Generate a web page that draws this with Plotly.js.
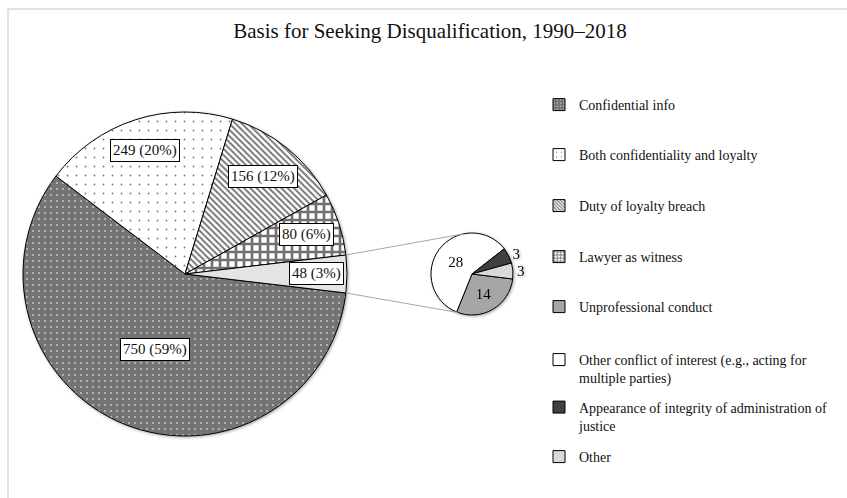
<!DOCTYPE html>
<html><head><meta charset="utf-8">
<script src="https://cdn.plot.ly/plotly-3.0.1.min.js"></script>
<style>html,body{margin:0;padding:0;background:#fff}#chart{width:847px;height:498px}
.pielayer g.trace{filter:drop-shadow(1px 1.5px 1.5px rgba(0,0,0,0.35));}</style>
</head><body><div id="chart"></div>
<script>
// ---------- data ----------
const titleText = 'Basis for Seeking Disqualification, 1990–2018';
const mainLabels = ['Confidential info', 'Both confidentiality and loyalty', 'Duty of loyalty breach', 'Lawyer as witness'];
const mainValues = [750, 249, 156, 80];
const mainPct = [59, 20, 12, 6];
const otherPct = 3;
const subLabels = ['Unprofessional conduct', 'Other conflict of interest (e.g., acting for<br>multiple parties)', 'Appearance of integrity of administration of<br>justice', 'Other'];
const subValues = [14, 28, 3, 3];

// ---------- layout / style ----------
const W = 847, H = 498;
const FONT = 'Liberation Serif, DejaVu Serif, serif';
const px = x => x / W;
const py = y => 1 - y / H;
const mainC = {x: 185, y: 274, r: 162};
const subC = {x: 472, y: 274, r: 41};
const dom = c => ({x: [px(c.x - c.r), px(c.x + c.r)], y: [py(c.y + c.r), py(c.y - c.r)]});

const otherTotal = subValues.reduce((a, b) => a + b, 0);
const pieValues = mainValues.concat([otherTotal]);
const total = pieValues.reduce((a, b) => a + b, 0);
const halfOther = otherTotal / total * 180;
const mainRotation = 90 + halfOther;

const mainStyle = {
  colors:   ['#747474', '#ffffff', '#ffffff', '#ffffff', '#e4e4e4'],
  shape:    ['.', '.', '\\', '+', ''],
  fg:       ['#ffffff', '#777777', '#777777', '#707070', '#e4e4e4'],
  size:     [6, 9, 4.4, 8, 8],
  solidity: [0.06, 0.03, 0.45, 0.55, 0.3]
};
const subColors = ['#a6a6a6', '#ffffff', '#404040', '#d9d9d9'];

const traces = [];
traces.push({
  type: 'pie', values: pieValues, labels: mainLabels.concat(['Other (group)']),
  sort: false, direction: 'clockwise', rotation: mainRotation,
  domain: dom(mainC), textinfo: 'none', hoverinfo: 'skip', showlegend: false,
  marker: {colors: mainStyle.colors, line: {color: '#000', width: 1},
    pattern: {shape: mainStyle.shape, fgcolor: mainStyle.fg, bgcolor: mainStyle.colors,
      size: mainStyle.size, solidity: mainStyle.solidity}}
});
traces.push({
  type: 'pie', values: subValues, labels: subLabels,
  sort: false, direction: 'clockwise', rotation: 97,
  domain: dom(subC), textinfo: 'value', hoverinfo: 'skip', showlegend: false,
  textposition: ['inside', 'inside', 'outside', 'outside'],
  insidetextorientation: 'horizontal',
  textfont: {family: FONT, size: 15, color: '#000'},
  outsidetextfont: {family: FONT, size: 15, color: '#000'},
  insidetextfont: {family: FONT, size: 15, color: '#000'},
  marker: {colors: subColors, line: {color: '#000', width: 1}}
});

// legend dummies
const legNames = mainLabels.concat(subLabels);
const legColors = mainStyle.colors.slice(0, 4).concat(subColors);
const legShape = mainStyle.shape.slice(0, 4).concat(['', '', '', '']);
const legFg = mainStyle.fg.slice(0, 4).concat(subColors);
const legSize = [4, 6, 3, 4, 8, 8, 8, 8];
const legSol = [0.1, 0.05, 0.45, 0.5, 0.3, 0.3, 0.3, 0.3];
const legY = [105, 155, 206, 257, 307, 369, 416.5, 457];
const layout = {
  width: W, height: H, margin: {l: 0, r: 0, t: 0, b: 0},
  paper_bgcolor: '#fff', plot_bgcolor: 'rgba(0,0,0,0)',
  xaxis: {visible: false}, yaxis: {visible: false},
  font: {family: FONT, color: '#111'},
  title: {text: titleText, font: {family: FONT, size: 21, color: '#111'},
    x: px(430), xanchor: 'center', xref: 'paper', y: py(31), yanchor: 'middle', yref: 'paper'},
  annotations: [], shapes: []
};
legNames.forEach((n, i) => {
  const key = i === 0 ? 'legend' : 'legend' + (i + 1);
  traces.push({type: 'bar', x: [null], y: [null], name: n, legend: key, showlegend: true, hoverinfo: 'skip',
    marker: {color: legColors[i], line: {color: '#000', width: 1},
      pattern: {shape: legShape[i], fgcolor: legFg[i], bgcolor: legColors[i], size: legSize[i], solidity: legSol[i]}}});
  layout[key] = {x: px(539), xanchor: 'left', y: py(legY[i]), yanchor: 'middle', valign: 'top',
    bgcolor: 'rgba(0,0,0,0)', borderwidth: 0, font: {family: FONT, size: 14, color: '#111'}};
});

// main-pie value labels
const labelFrac = [0.5, 0.8, 0.77, 0.79, 0.81];
const a0 = 90 - mainRotation;
let cum = 0;
const allPct = mainPct.concat([otherPct]);
pieValues.forEach((v, i) => {
  const mid = (a0 - (cum + v / 2) / total * 360) * Math.PI / 180;
  cum += v;
  const f = labelFrac[i];
  layout.annotations.push({
    xref: 'paper', yref: 'paper', showarrow: false,
    x: px(mainC.x + f * mainC.r * Math.cos(mid)), y: py(mainC.y - f * mainC.r * Math.sin(mid)),
    xanchor: 'center', yanchor: 'middle',
    text: v + ' (' + allPct[i] + '%)', font: {family: FONT, size: 15, color: '#111'},
    bgcolor: '#fff', bordercolor: '#000', borderwidth: 1, borderpad: 2
  });
});

// connector lines
const ha = halfOther * Math.PI / 180;
[[ha, 102], [-ha, -110]].forEach(([am, asd]) => {
  const b = asd * Math.PI / 180;
  layout.shapes.push({type: 'line', xref: 'paper', yref: 'paper',
    x0: px(mainC.x + mainC.r * Math.cos(am)), y0: py(mainC.y - mainC.r * Math.sin(am)),
    x1: px(subC.x + subC.r * Math.cos(b)), y1: py(subC.y - subC.r * Math.sin(b)),
    line: {color: '#a6a6a6', width: 1}});
});
// frame
layout.shapes.push({type: 'rect', xref: 'paper', yref: 'paper', x0: px(8), x1: px(880), y0: py(530), y1: py(9),
  line: {color: '#d9d9d9', width: 1.5}, layer: 'below'});

Plotly.newPlot('chart', traces, layout, {staticPlot: true, displayModeBar: false});
</script></body></html>
